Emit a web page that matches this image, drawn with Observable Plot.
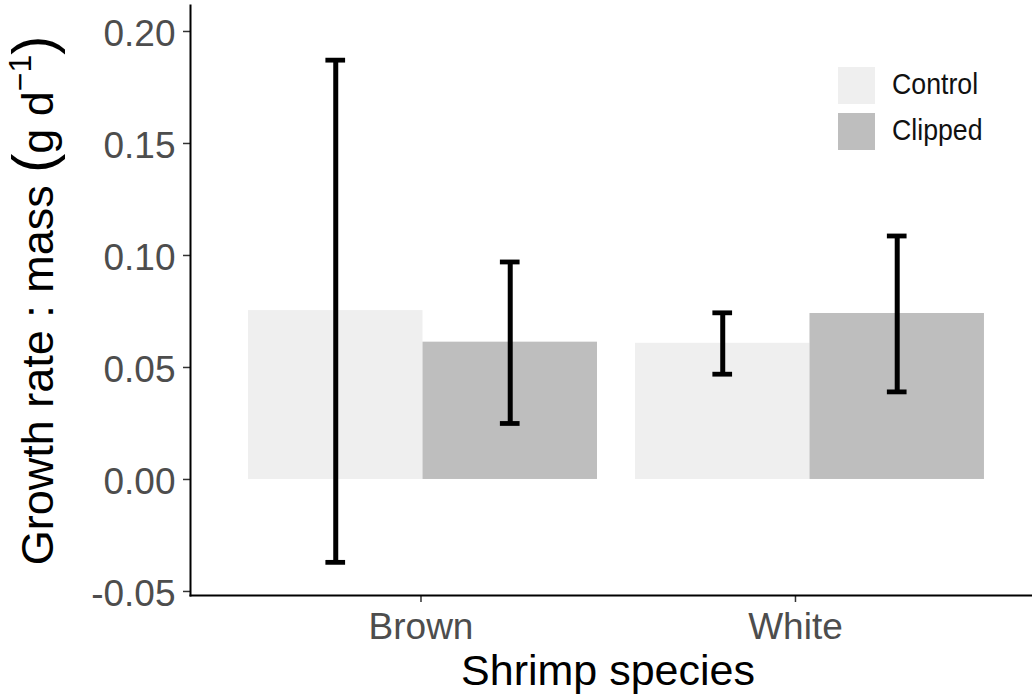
<!DOCTYPE html>
<html><head><meta charset="utf-8">
<script src="https://cdn.jsdelivr.net/npm/d3@7"></script>
<script src="https://cdn.jsdelivr.net/npm/@observablehq/plot@0.6"></script>
<style>
html,body{margin:0;padding:0;background:#fff;overflow:hidden;}
#wrap{position:relative;width:1032px;height:700px;font-family:"Liberation Sans",Arial,sans-serif;}
#legend{position:absolute;left:838px;top:67px;}
.row{display:flex;align-items:flex-start;height:37px;margin-bottom:9px;}
.sw{width:37px;height:37px;}
.lab{margin-left:17px;font-size:30px;line-height:37px;color:#111;transform:scaleX(0.89);transform-origin:left center;position:relative;top:-2px;white-space:nowrap;}
</style></head><body><div id="wrap"></div>
<script>
const species = ["Brown", "White"];
const treatments = ["Control", "Clipped"];
const meanControl = [0.0754, 0.0608];
const meanClipped = [0.0613, 0.0741];
const lowerControl = [-0.0370, 0.0470];
const upperControl = [0.1872, 0.0744];
const lowerClipped = [0.0250, 0.0391];
const upperClipped = [0.0971, 0.1087];
const fills = ["#efefef", "#bebebe"];
const yTicks = [-0.05, 0.00, 0.05, 0.10, 0.15, 0.20];
const yDomain = [-0.0518, 0.2116];
const xTitle = "Shrimp species";
const yTitle = "Growth rate : mass (g d\u22121)";

const rows = species.flatMap((s, i) => [
  {species: s, treatment: treatments[0], mean: meanControl[i], lo: lowerControl[i], hi: upperControl[i]},
  {species: s, treatment: treatments[1], mean: meanClipped[i], lo: lowerClipped[i], hi: upperClipped[i]}
]);

const font = '"Liberation Sans", Arial, sans-serif';
const W = 1032, H = 700, ML = 190, MR = 0, MT = 5, MB = 105;
const fxOpts = {paddingInner: 0.0982, paddingOuter: 0.137, align: 0.547};
// facet band layout (same as Plot's fx scale) to reach the panel edges from facet-relative marks
const fxBand = d3.scaleBand().domain(species).range([ML, W - MR])
  .paddingInner(fxOpts.paddingInner).paddingOuter(fxOpts.paddingOuter).align(fxOpts.align);
const leftGap = fxBand(species[0]) - ML;
const rightGap = (W - MR) - (fxBand(species[species.length - 1]) + fxBand.bandwidth());
const innerCenter = (fxBand(species[0]) + fxBand(species[species.length - 1]) + fxBand.bandwidth()) / 2;

const capInset = 77.4;
const fxTick = {anchor: "bottom", tickSize: 7, tickPadding: 10.7, label: null, stroke: "#333", strokeWidth: 1.5, fill: "#4d4d4d", fontSize: 37};

const chart = Plot.plot({
  width: W, height: H,
  marginTop: MT, marginBottom: MB, marginLeft: ML, marginRight: MR,
  style: {fontFamily: font, fontSize: "37px", background: "white", overflow: "visible"},
  fx: {domain: species, ...fxOpts, round: false, label: null, axis: null},
  x: {domain: treatments, padding: 0, round: false, axis: null},
  y: {domain: yDomain, axis: null},
  color: {domain: treatments, range: fills},
  marks: [
    Plot.barY(rows, {fx: "species", x: "treatment", y: "mean", fill: "treatment"}),
    Plot.ruleX(rows, {fx: "species", x: "treatment", y1: "lo", y2: "hi", stroke: "black", strokeWidth: 5}),
    Plot.tickY(rows, {fx: "species", x: "treatment", y: "hi", stroke: "black", strokeWidth: 4.8, insetLeft: capInset, insetRight: capInset}),
    Plot.tickY(rows, {fx: "species", x: "treatment", y: "lo", stroke: "black", strokeWidth: 4.8, insetLeft: capInset, insetRight: capInset}),
    Plot.axisY({ticks: yTicks, tickFormat: () => "", tickSize: 7, stroke: "#333", strokeWidth: 1.5, label: null, dx: -leftGap}),
    Plot.axisY({ticks: yTicks, tickFormat: d => d.toFixed(2), tickSize: 0, tickPadding: 15, fill: "#4d4d4d", fontSize: 37, label: null, dx: -leftGap, dy: 3}),
    Plot.axisFx({...fxTick, ticks: [species[0]], dx: -2}),
    Plot.axisFx({...fxTick, ticks: [species[1]], dx: -14.5}),
    Plot.frame({facet: "super", anchor: "left", stroke: "black", strokeWidth: 2, dx: -leftGap}),
    Plot.frame({facet: "super", anchor: "bottom", stroke: "black", strokeWidth: 2, insetLeft: -leftGap, insetRight: -rightGap}),
    Plot.text([xTitle], {facet: "super", frameAnchor: "bottom", dy: 89, dx: 607.5 - innerCenter, lineAnchor: "bottom", fontSize: 43, fill: "black"}),
    Plot.text([yTitle], {facet: "super", frameAnchor: "left", textAnchor: "middle", rotate: -90, dx: 52 - ML - leftGap, lineAnchor: "bottom", fontSize: 45, fill: "black"})
  ]
});

// plotmath-style unit in the y title: large parentheses and a superscript
d3.select(chart).selectAll("text").filter(function() { return this.textContent === yTitle; })
  .each(function() {
    const t = d3.select(this);
    t.text(null);
    t.append("tspan").text("Growth rate : mass ");
    t.append("tspan").attr("font-size", 57).text("(");
    t.append("tspan").text("g d");
    t.append("tspan").attr("dy", -22).attr("font-size", 32).text("\u22121");
    t.append("tspan").attr("dy", 22).attr("font-size", 57).text(")");
  });

const wrap = document.getElementById("wrap");
wrap.appendChild(chart);

const legend = document.createElement("div");
legend.id = "legend";
treatments.forEach((t, i) => {
  const row = document.createElement("div");
  row.className = "row";
  const sw = document.createElement("div");
  sw.className = "sw";
  sw.style.background = fills[i];
  const lab = document.createElement("div");
  lab.className = "lab";
  lab.textContent = t;
  row.appendChild(sw); row.appendChild(lab);
  legend.appendChild(row);
});
wrap.appendChild(legend);
</script>
</body></html>
